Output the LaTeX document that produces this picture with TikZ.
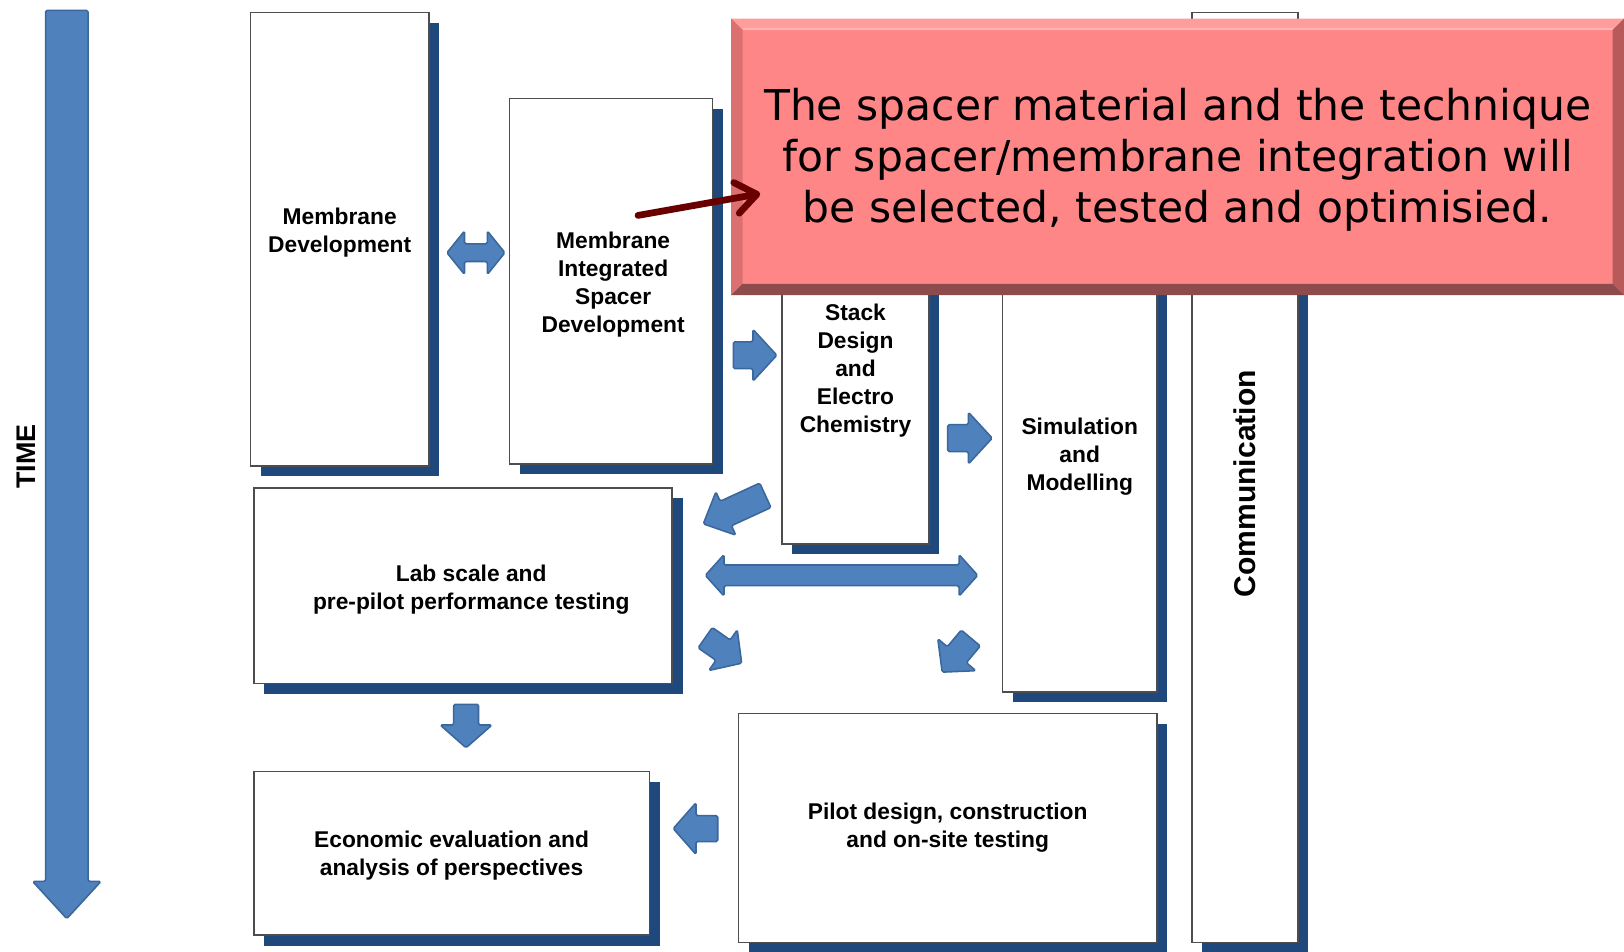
\documentclass[tikz,border=0pt]{standalone}
\usepackage{fontspec}
\setmainfont{Liberation Sans}
\newfontfamily\notefont{DejaVu Sans}
\usetikzlibrary{arrows.meta,shadows}
\definecolor{arrowblue}{HTML}{4F81BD}
\definecolor{arrowedge}{HTML}{3A679C}
\definecolor{shadowblue}{HTML}{1F497D}
\definecolor{boxedge}{HTML}{4D4D4D}
\definecolor{notefill}{HTML}{FF8686}
\definecolor{notetop}{HTML}{FF9C9C}
\definecolor{notelight}{HTML}{FFB4B4}
\definecolor{noteleft}{HTML}{DC7070}
\definecolor{noteright}{HTML}{B85A5A}
\definecolor{notebottom}{HTML}{8E4B4B}
\definecolor{callred}{HTML}{690000}
\tikzset{
  box/.style={draw=boxedge, line width=1.5pt, fill=white, inner sep=0pt,
    drop shadow={fill=shadowblue, opacity=1, shadow xshift=10pt, shadow yshift=-10pt},
    font=\fontsize{22}{27}\selectfont\bfseries, align=center},
  boxtext/.style={font=\fontsize{22}{27}\selectfont\bfseries, align=center, inner sep=0pt},
  blockarrow/.style={fill=arrowblue, draw=arrowedge, line width=1.5pt, rounded corners=1.5pt, line join=round},
  pics/sarrow/.style n args={4}{code={
    \path[blockarrow] ({-#1/2},{-#3/2}) -- ({#1/2-#4},{-#3/2}) -- ({#1/2-#4},{-#2/2}) -- ({#1/2},0) -- ({#1/2-#4},{#2/2}) -- ({#1/2-#4},{#3/2}) -- ({-#1/2},{#3/2}) -- cycle;
  }},
  pics/darrow/.style n args={4}{code={
    \path[blockarrow] ({-#1/2},0) -- ({-#1/2+#4},{-#2/2}) -- ({-#1/2+#4},{-#3/2}) -- ({#1/2-#4},{-#3/2}) -- ({#1/2-#4},{-#2/2}) -- ({#1/2},0) -- ({#1/2-#4},{#2/2}) -- ({#1/2-#4},{#3/2}) -- ({-#1/2+#4},{#3/2}) -- ({-#1/2+#4},{#2/2}) -- cycle;
  }},
}
\begin{document}
\begin{tikzpicture}[x=1pt,y=-1pt]
\useasboundingbox (0,0) rectangle (1568,919);
\clip (0,0) rectangle (1568,919);

% time axis
\pic[rotate=-90] (timearrow) at (64.5,448.5) {sarrow={877}{66}{41}{36}};
\node[rotate=90, font=\fontsize{26}{30}\selectfont\bfseries] (time) at (25,441) {TIME};

% work package boxes
\node[box, minimum width=172pt, minimum height=438pt,
  label={[boxtext, yshift=6.5pt]center:Membrane\\Development}] (md) at (328,231) {};
\node[box, minimum width=196pt, minimum height=353pt,
  label={[boxtext, xshift=2pt, yshift=-3pt]center:Membrane\\Integrated\\Spacer\\Development}] (misd) at (590,271.5) {};
\node[box, minimum width=142pt, minimum height=340pt,
  label={[boxtext, yshift=-3pt]center:Stack\\Design\\and\\Electro\\Chemistry}] (stack) at (826,355) {};
\node[box, minimum width=149pt, minimum height=460pt,
  label={[boxtext, yshift=-2.5pt]center:Simulation\\and\\Modelling}] (sim) at (1042.5,438) {};
\node[box, minimum width=102pt, minimum height=898pt, font=\fontsize{29}{33}\selectfont\bfseries] (comm) at (1202,461) {\rotatebox{90}{\hspace*{-12pt}Communication}};
\node[box, minimum width=404pt, minimum height=189pt,
  label={[boxtext, xshift=8pt, yshift=-4pt]center:Lab scale and\\pre-pilot performance testing}] (lab) at (447,565.5) {};
\node[box, minimum width=382pt, minimum height=158pt,
  label={[boxtext, yshift=-2pt]center:Economic evaluation and\\analysis of perspectives}] (econ) at (436,824) {};
\node[box, minimum width=404pt, minimum height=221pt,
  label={[boxtext]center:Pilot design, construction\\and on-site testing}] (pilot) at (915,799.5) {};

% block arrows
\pic (a1) at (459.5,244) {darrow={56}{42}{17}{17}};
\pic (a2) at (729,343) {sarrow={42}{50}{26}{23}};
\pic (a3) at (936.5,423) {sarrow={43}{50}{26}{23}};
\pic[rotate=204.7] (a4) at (709,492) {sarrow={66}{46}{26}{24}};
\pic (a5) at (812.5,555.5) {darrow={263}{40}{20}{18}};
\pic[rotate=-35] (a6) at (698.5,628) {sarrow={43}{48}{24}{22}};
\pic[rotate=230] (a7) at (923.5,632.5) {sarrow={43}{48}{24}{22}};
\pic[rotate=-90] (a8) at (450,701) {sarrow={42}{50}{24}{22}};
\pic[rotate=180] (a9) at (671.5,800) {sarrow={43}{50}{25}{22}};

% callout
\node[fill=notefill, minimum width=862pt, minimum height=267pt, inner sep=0pt,
  label={[font=\notefont\fontsize{41}{49}\selectfont, align=center, inner sep=0pt, yshift=-3pt]center:The spacer material and the technique\\for spacer/membrane integration will\\be selected, tested and optimisied.}] (note) at (1137,151.5) {};
\fill[notetop] (706,18) -- (1568,18) -- (1557,29) -- (717,29) -- cycle;
\draw[notelight, line width=2pt] (717,28) -- (1557,28);
\fill[noteleft] (706,18) -- (717,29) -- (717,274) -- (706,285) -- cycle;
\fill[noteright] (1568,18) -- (1557,29) -- (1557,274) -- (1568,285) -- cycle;
\fill[notebottom] (706,285) -- (717,274) -- (1557,274) -- (1568,285) -- cycle;

\coordinate (rs) at (616,208);
\coordinate (rt) at (734,187);
\draw[line width=6.5pt, callred, line cap=round, -{Straight Barb[length=20pt,width=30pt,round]}] (rs) -- (rt);
\end{tikzpicture}
\end{document}
